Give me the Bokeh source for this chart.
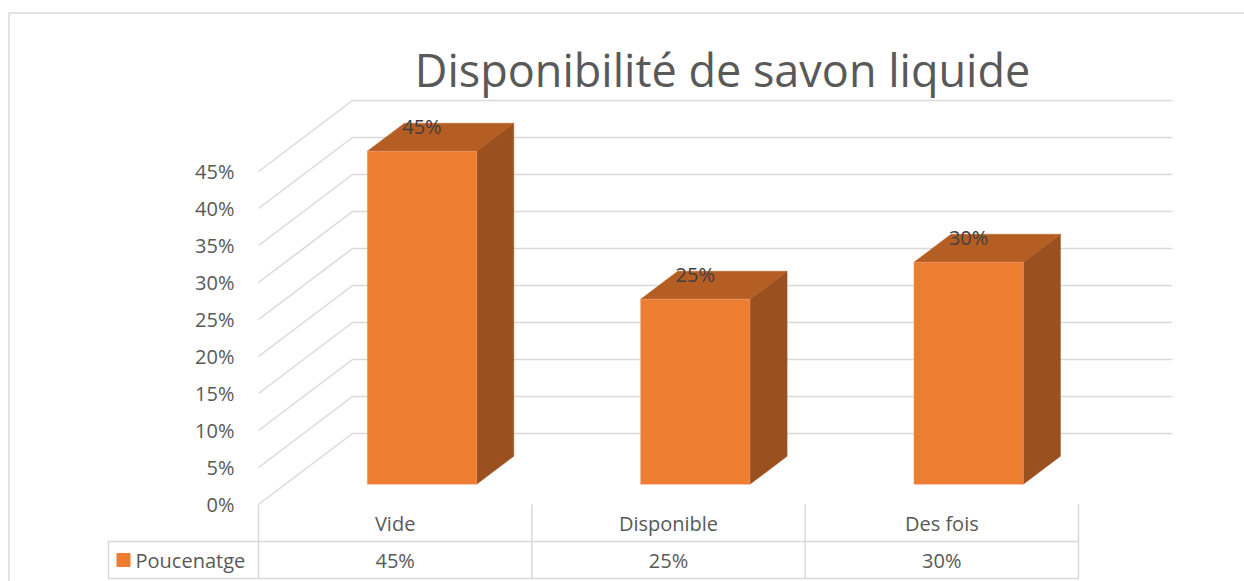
from bokeh.plotting import figure
from bokeh.models import Label
from bokeh.core.properties import value
from bokeh.embed import file_html
from bokeh.resources import INLINE

# ---------------- data ----------------
title_text = "Disponibilité de savon liquide"
categories = ["Vide", "Disponible", "Des fois"]
values = [45, 25, 30]
series_name = "Poucenatge"
value_labels = ["45%", "25%", "30%"]
y_ticks = [0, 5, 10, 15, 20, 25, 30, 35, 40, 45]
y_tick_labels = ["0%", "5%", "10%", "15%", "20%", "25%", "30%", "35%", "40%", "45%"]

# ---------------- layout constants ----------------
W, H = 1244, 581
PX_X = 273.33          # pixels per category
PX_Y = 7.4             # pixels per percent
X0_PX = 258            # px from left of frame to the front-left corner of the floor
Y0_PX = 77             # px from bottom of frame to the front 0% line
x_start = -0.5 - X0_PX / PX_X
x_end = x_start + W / PX_X
y_start = -Y0_PX / PX_Y
y_end = y_start + H / PX_Y

DX = 94 / PX_X         # perspective depth offset (x)
DY = 71 / PX_Y         # perspective depth offset (y)
D0, D1 = 0.285, 0.68   # depth fractions of bar front / back
HALF = 0.2             # half bar width (category units)

GRID = "#d9d9d9"
TXT = "#595959"
FONT = value("Open Sans")

p = figure(width=W, height=H, x_range=(x_start, x_end), y_range=(y_start, y_end),
           output_backend="svg", toolbar_location=None, min_border=0,
           background_fill_color="white", border_fill_color="white")
p.axis.visible = False
p.grid.visible = False
p.outline_line_color = None

n = len(categories)
left_edge = -0.5
right_edge = n - 0.5

# chart border (left and top)
bx = x_start + 8.5 / PX_X
by = y_end - 12.5 / PX_Y
p.multi_line(xs=[[bx, bx, x_end]], ys=[[y_start, by, by]], line_color=GRID, line_width=1.5)

# side wall diagonals and back wall gridlines
p.multi_line(xs=[[left_edge, left_edge + DX] for _ in y_ticks],
             ys=[[v, v + DY] for v in y_ticks], line_color=GRID, line_width=1.5)
p.multi_line(xs=[[left_edge + DX, right_edge + DX] for _ in y_ticks],
             ys=[[v + DY, v + DY] for v in y_ticks], line_color=GRID, line_width=1.5)

# y tick labels on front edge
p.text(x=[left_edge] * len(y_ticks), y=y_ticks, text=y_tick_labels, x_offset=-24,
       text_align="right", text_baseline="middle", text_font=FONT,
       text_font_size="20px", text_color=TXT)

# 3D bars
front_xs, front_ys, top_xs, top_ys, side_xs, side_ys = [], [], [], [], [], []
for i, v in enumerate(values):
    xl, xr = i - HALF, i + HALF
    fx0, fx1 = xl + D0 * DX, xr + D0 * DX
    bx0, bx1 = xl + D1 * DX, xr + D1 * DX
    fy0, fy1 = D0 * DY, v + D0 * DY
    by0, by1 = D1 * DY, v + D1 * DY
    front_xs.append([fx0, fx1, fx1, fx0]); front_ys.append([fy0, fy0, fy1, fy1])
    top_xs.append([fx0, fx1, bx1, bx0]); top_ys.append([fy1, fy1, by1, by1])
    side_xs.append([fx1, bx1, bx1, fx1]); side_ys.append([fy0, by0, by1, fy1])

p.patches(xs=side_xs, ys=side_ys, fill_color="#9B5020", line_color="#9B5020", line_width=0.5)
p.patches(xs=top_xs, ys=top_ys, fill_color="#B55E24", line_color="#B55E24", line_width=0.5)
p.patches(xs=front_xs, ys=front_ys, fill_color="#ED7D31", line_color="#F0A070", line_width=0.5)

# data labels
p.text(x=[i + D0 * DX for i in range(n)], y=[v + D0 * DY for v in values], text=value_labels,
       y_offset=-25, text_align="center", text_baseline="middle", text_font=FONT,
       text_font_size="20px", text_color="#404040")

# data table under the chart
row_h = 37 / PX_Y
row1 = -row_h
row2 = -2 * row_h
leg_left = left_edge - 150 / PX_X
bounds = [left_edge + k for k in range(n + 1)]
tx, ty = [], []
for b in bounds:
    tx.append([b, b]); ty.append([0, row2])
tx.append([leg_left, leg_left]); ty.append([row1, row2])
tx.append([leg_left, right_edge]); ty.append([row1, row1])
tx.append([leg_left, right_edge]); ty.append([row2, row2])
p.multi_line(xs=tx, ys=ty, line_color=GRID, line_width=1.5)

p.text(x=list(range(n)), y=[row1 / 2] * n, text=categories, text_align="center",
       text_baseline="middle", text_font=FONT, text_font_size="20px", text_color=TXT)
p.text(x=list(range(n)), y=[(row1 + row2) / 2] * n, text=value_labels, text_align="center",
       text_baseline="middle", text_font=FONT, text_font_size="20px", text_color=TXT)
p.scatter(x=[leg_left + 15 / PX_X], y=[(row1 + row2) / 2], marker="square", size=13,
          fill_color="#ED7D31", line_color="#ED7D31")
p.text(x=[leg_left + 27 / PX_X], y=[(row1 + row2) / 2], text=[series_name], text_align="left",
       text_baseline="middle", text_font=FONT, text_font_size="20px", text_color=TXT)

# title
p.add_layout(Label(x=722, y=H - 69, x_units="screen", y_units="screen", text=title_text,
                   text_align="center", text_baseline="alphabetic", text_font="Open Sans",
                   text_font_size="45px", text_color=TXT))

open("out.html", "w").write(file_html(p, INLINE))
